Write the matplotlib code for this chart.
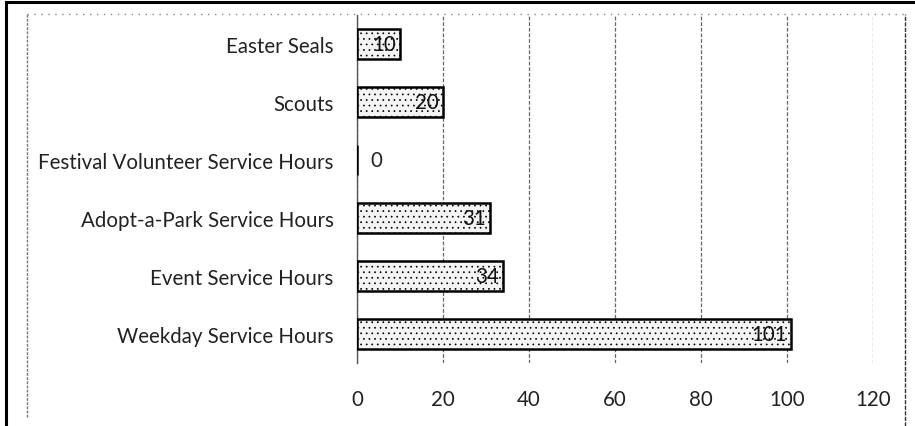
import matplotlib
matplotlib.use('Agg')
from matplotlib import pyplot as plt
from matplotlib.lines import Line2D

categories = ['Easter Seals', 'Scouts', 'Festival Volunteer Service Hours',
              'Adopt-a-Park Service Hours', 'Event Service Hours', 'Weekday Service Hours']
hours = [10, 20, 0, 31, 34, 101]
x_ticks = [0, 20, 40, 60, 80, 100, 120]

plt.rcParams['font.family'] = ['Lato', 'DejaVu Sans']
plt.rcParams['hatch.color'] = '#a8a8a8'
plt.rcParams['hatch.linewidth'] = 0.5

W, H = 915, 427
fig = plt.figure(figsize=(W / 100, H / 100), dpi=100)

# axes placed in pixel terms
left, right, top, bottom = 357, 873, 16, 364
ax = fig.add_axes([left / W, 1 - bottom / H, (right - left) / W, (bottom - top) / H])

ypos = list(range(len(categories)))
ax.barh(ypos, hours, height=0.52, color='#f4f4f4', edgecolor='black',
        linewidth=1.8, hatch='...', zorder=3)

ax.set_xlim(0, 120)
ax.set_ylim(len(categories) - 0.5, -0.5)

ax.set_yticks(ypos)
ax.set_yticklabels(categories, fontsize=14.8, color='#222222')
ax.set_xticks(x_ticks)
ax.set_xticklabels([str(t) for t in x_ticks], fontsize=14.8, color='#222222')
ax.tick_params(axis='y', length=0, pad=17)
ax.tick_params(axis='x', length=0, pad=19)

for s in ['top', 'right', 'bottom']:
    ax.spines[s].set_visible(False)
ax.spines['left'].set_linestyle((0, (2, 1)))
ax.spines['left'].set_color('#555555')
ax.spines['left'].set_linewidth(1.0)

ax.grid(axis='x', color='#666666', linestyle=(0, (3, 1.5)), linewidth=0.9, zorder=0)

for y, v in zip(ypos, hours):
    if v == 0:
        ax.text(4.5, y, str(v), va='center', ha='center', fontsize=14.8, color='#222222', zorder=4)
    else:
        ax.text(v - 1.0, y, str(v), va='center', ha='right', fontsize=14.8, color='#111111', zorder=4)

# outer scanned frame
fig.add_artist(Line2D([6 / W, 1], [1 - 3 / H, 1 - 3 / H], color='black', linewidth=2.2))
fig.add_artist(Line2D([6 / W, 6 / W], [0, 1 - 3 / H], color='black', linewidth=2.2))
# inner dotted frame
fig.add_artist(Line2D([27 / W, 905 / W], [1 - 15 / H, 1 - 15 / H], color='#888888',
                      linewidth=1.0, linestyle=(0, (1, 4))))
fig.add_artist(Line2D([27 / W, 27 / W], [1 - 418 / H, 1 - 15 / H], color='#777777',
                      linewidth=1.0, linestyle=(0, (2, 1))))
fig.add_artist(Line2D([905 / W, 905 / W], [0.0, 1 - 15 / H], color='#333333',
                      linewidth=1.0, linestyle=(0, (3, 1))))

fig.savefig('out.png', dpi=100)
